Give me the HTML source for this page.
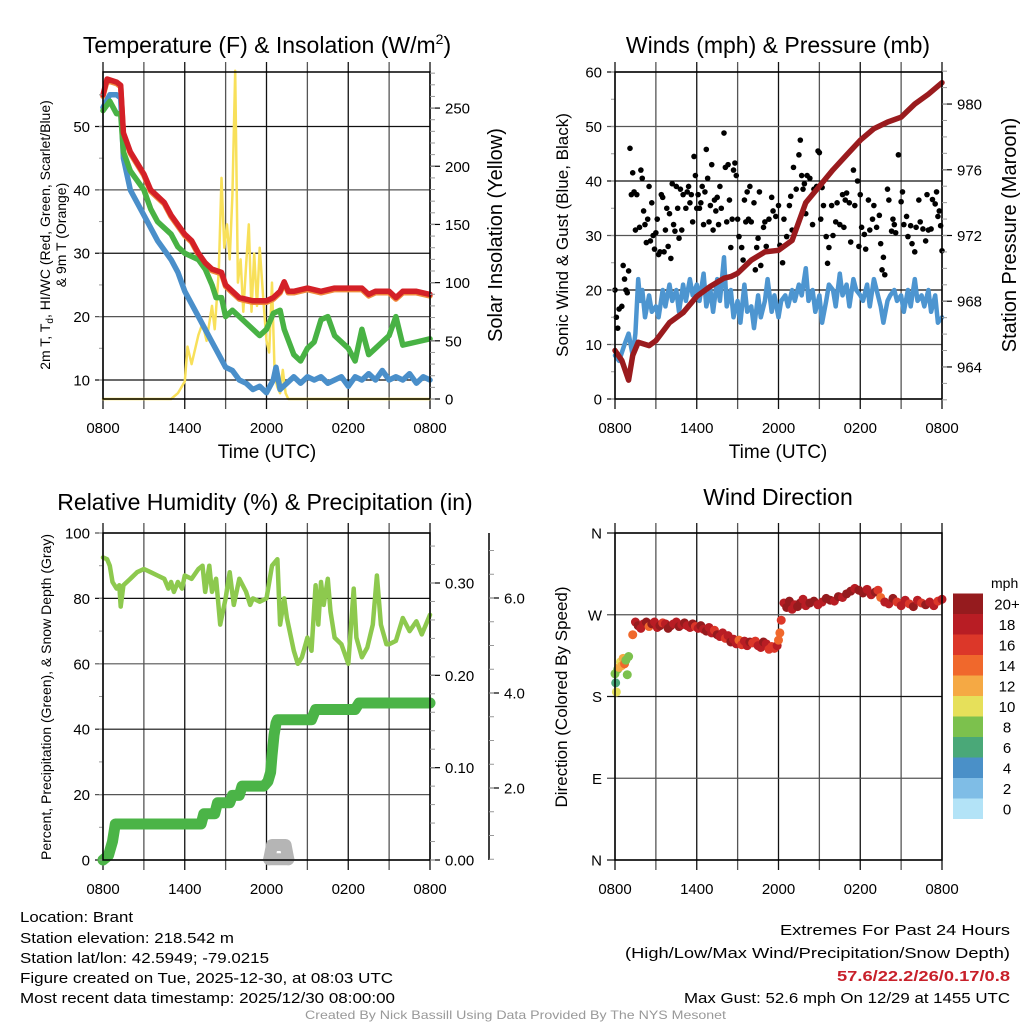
<!DOCTYPE html>
<html><head><meta charset="utf-8">
<style>
html,body{margin:0;padding:0;background:#fff;}
svg{display:block;font-family:"Liberation Sans",sans-serif;}
</style></head>
<body>
<svg id="c" width="1024" height="1024" viewBox="0 0 1024 1024" xmlns="http://www.w3.org/2000/svg">
<rect width="1024" height="1024" fill="#fff"/>
<g id="grids"></g>
<g id="marks"></g>
<g id="axes"></g>
<g id="texts" font-family="Liberation Sans, sans-serif" fill="#000">
<text x="267" y="53" font-size="23" text-anchor="middle">Temperature (F) &amp; Insolation (W/m<tspan dy="-9" font-size="14">2</tspan><tspan dy="9">)</tspan></text>
<text x="778" y="53" font-size="23" text-anchor="middle">Winds (mph) &amp; Pressure (mb)</text>
<text x="265" y="510" font-size="23" text-anchor="middle">Relative Humidity (%) &amp; Precipitation (in)</text>
<text x="778" y="505" font-size="23" text-anchor="middle">Wind Direction</text>
<text x="267" y="458" font-size="19" text-anchor="middle">Time (UTC)</text>
<text x="778" y="458" font-size="19" text-anchor="middle">Time (UTC)</text>
<text transform="translate(50,235) rotate(-90)" font-size="14" text-anchor="middle">2m T, T<tspan font-size="10" dy="3">d</tspan><tspan dy="-3">, HI/WC (Red, Green, Scarlet/Blue)</tspan></text>
<text transform="translate(66,235) rotate(-90)" font-size="14" text-anchor="middle">&amp; 9m T (Orange)</text>
<text transform="translate(502,235) rotate(-90)" font-size="20" text-anchor="middle">Solar Insolation (Yellow)</text>
<text transform="translate(568,235) rotate(-90)" font-size="17" text-anchor="middle">Sonic Wind &amp; Gust (Blue, Black)</text>
<text transform="translate(1016,235) rotate(-90)" font-size="20" text-anchor="middle">Station Pressure (Maroon)</text>
<text transform="translate(51,697) rotate(-90)" font-size="14" text-anchor="middle">Percent, Precipitation (Green), &amp; Snow Depth (Gray)</text>
<text transform="translate(567,697) rotate(-90)" font-size="17" text-anchor="middle">Direction (Colored By Speed)</text>
<text x="991" y="588" font-size="14">mph</text>
<g font-size="15">
<text x="20" y="922" textLength="113" lengthAdjust="spacingAndGlyphs">Location: Brant</text>
<text x="20" y="943" textLength="214" lengthAdjust="spacingAndGlyphs">Station elevation: 218.542 m</text>
<text x="20" y="963" textLength="249" lengthAdjust="spacingAndGlyphs">Station lat/lon: 42.5949; -79.0215</text>
<text x="20" y="983" textLength="373" lengthAdjust="spacingAndGlyphs">Figure created on Tue, 2025-12-30, at 08:03 UTC</text>
<text x="20" y="1003" textLength="375" lengthAdjust="spacingAndGlyphs">Most recent data timestamp: 2025/12/30 08:00:00</text>
</g>
<g font-size="15">
<text x="780" y="935" textLength="230" lengthAdjust="spacingAndGlyphs">Extremes For Past 24 Hours</text>
<text x="625" y="958" textLength="385" lengthAdjust="spacingAndGlyphs">(High/Low/Max Wind/Precipitation/Snow Depth)</text>
<text x="837" y="981" textLength="173" lengthAdjust="spacingAndGlyphs" fill="#c8202a" font-weight="bold">57.6/22.2/26/0.17/0.8</text>
<text x="684" y="1003" textLength="326" lengthAdjust="spacingAndGlyphs">Max Gust: 52.6 mph On 12/29 at 1455 UTC</text>
</g>
<text x="305" y="1019" font-size="12" fill="#999" textLength="421" lengthAdjust="spacingAndGlyphs">Created By Nick Bassill Using Data Provided By The NYS Mesonet</text>
</g>
</svg>
<script>
// ---------- data ----------
const tempHours = [0,0.3,1,1.3,1.5,2,3,3.5,4,4.5,5,5.5,6,6.5,7,7.5,8,8.7,9,9.5,10,11,12,12.5,13,13.3,13.6,14,15,16,17,18,19,19.5,20,21,21.5,22,23,24];
const tempValues = [55,57.5,57,56.5,49,46,42.5,40,39,38,36,34.5,33,32,30,28.5,27.5,27,25,24,23,22.5,22.5,23,24,25.5,24,24,24.5,24,24.5,24.5,24.5,23.5,24,24,23,24,24,23.5];
const dewHours = [0,0.5,1,1.3,1.5,2,3,3.5,4,5,5.5,6,7,7.5,8,8.3,8.7,9,9.5,10,11,11.5,12,12.5,13,13.3,14,14.5,15,15.5,16,16.5,17,18,18.5,19,19.5,20,21,21.5,22,23,24];
const dewValues = [52.5,54,52,52,46,43,40,37,35,33,31,30,29,27.5,25,23,23,20,21,20,18,17,18,20.5,21,18,14,13,15,16,19.5,20,17,15,13,18,14,15,17,20,15.5,16,16.5];
const chillHours = [0,0.5,1,1.3,1.5,2,3,4,5,5.5,6,6.5,7,7.5,8,8.5,9,9.5,10,10.5,11,11.5,12,12.5,12.7,13,13.5,14,14.5,15,15.5,16,16.5,17,17.5,18,18.5,19,19.5,20,20.5,21,21.5,22,22.5,23,23.5,24];
const chillValues = [53,55,55,54.5,45,40,36,32,29,27,24,22,20,18,16,14,12,11.5,10,9.5,8.5,9,8,10,12,8.5,9.5,10.5,9.5,10.5,10,10.5,9.5,10,10.5,9,10.5,10,11,10,11.5,10,10.5,10,11,9.5,10.5,10];
const solarHours = [0,5,5.5,6,6.2,6.5,7,7.3,7.6,8,8.2,8.5,8.7,8.9,9.1,9.3,9.5,9.7,9.9,10.1,10.3,10.5,10.7,10.9,11.1,11.3,11.5,11.8,12,12.2,12.4,12.6,12.8,13,13.2,13.4,13.6,24];
const solarValues = [0,0,5,15,45,30,55,65,50,80,60,110,190,130,150,120,175,282,100,120,75,115,150,75,125,80,130,80,50,40,100,20,10,5,25,5,0,0];
const windHours = [0,0.3,0.7,1,1.3,1.5,1.7,1.85,2,2.2,2.5,2.7,3,3.2,3.5,3.7,4,4.2,4.5,4.7,5,5.2,5.5,5.7,6,6.2,6.5,6.7,7,7.2,7.5,7.7,8,8.2,8.5,8.7,9,9.2,9.5,9.7,10,10.2,10.5,10.7,11,11.2,11.5,11.7,12,12.2,12.5,12.7,13,13.2,13.5,13.7,14,14.2,14.5,14.7,15,15.2,15.5,15.7,16,16.2,16.5,16.7,17,17.2,17.5,17.7,18,18.2,18.5,18.7,19,19.2,19.5,19.7,20,20.2,20.5,20.7,21,21.2,21.5,21.7,22,22.2,22.5,22.7,23,23.2,23.5,23.7,24];
const windValues = [8,7,10,12,8,12,22,18,20,15,19,16,17,15,20,17,21,18,20,16,21,18,22,19,21,18,23,17,20,16,22,18,26,17,20,15,18,14,21,16,17,13,19,15,18,22,16,19,15,18,19,17,20,18,21,19,24,18,20,16,19,14,18,21,20,17,23,19,21,17,22,20,19,18,21,17,22,20,17,14,18,19,20,18,19,16,20,17,22,18,19,17,20,16,19,14,15];
const presHours = [0,0.5,1,1.3,1.7,2.5,3,4,5,6,7,8,8.5,9,10,11,12,13,14,15,16,17,18,19,20,21,22,23,24];
const presValues = [965,964.4,963.2,964.7,965.5,965.3,965.6,966.7,967.3,968.3,968.9,969.4,969.5,969.7,970.5,971,971.1,971.7,974,975,976,976.9,977.8,978.5,978.9,979.2,980,980.6,981.3];
const gustHours = [0,0.1,0.2,0.3,0.5,0.6,0.7,0.8,0.9,1,1.1,1.2,1.3,1.4,1.5,1.6,1.8,1.9,2,2.1,2.2,2.3,2.4,2.5,2.6,2.7,2.8,2.9,3,3.1,3.2,3.3,3.4,3.5,3.6,3.7,3.8,3.9,4,4.1,4.2,4.3,4.4,4.5,4.6,4.7,4.8,4.9,5,5.2,5.3,5.4,5.5,5.6,5.7,5.8,5.9,6,6.1,6.2,6.3,6.4,6.5,6.6,6.7,6.8,6.9,7,7.1,7.2,7.3,7.4,7.5,7.6,7.7,7.8,8,8.1,8.2,8.3,8.4,8.5,8.6,8.7,8.8,8.9,9,9.1,9.3,9.4,9.5,9.6,9.7,9.8,9.9,10,10.2,10.3,10.4,10.5,10.6,10.7,10.9,11,11.1,11.3,11.5,11.6,11.8,12,12.1,12.3,12.4,12.6,12.8,12.9,13,13.1,13.3,13.5,13.6,13.7,13.8,13.9,14,14.1,14.3,14.5,14.6,14.8,14.9,15,15.1,15.2,15.3,15.5,15.6,15.7,15.9,16,16.2,16.3,16.5,16.7,16.8,16.9,17,17.2,17.3,17.5,17.6,17.8,17.9,18,18.1,18.3,18.4,18.6,18.7,18.9,19,19.2,19.4,19.5,19.6,19.7,19.8,20,20.1,20.3,20.4,20.5,20.6,20.8,21,21.1,21.2,21.4,21.5,21.7,21.8,22,22.1,22.3,22.4,22.6,22.8,22.9,23,23.2,23.3,23.5,23.6,23.7,23.8,23.9,24];
const gustValues = [20,15,13,16.5,17,24.5,22,20,19.5,23.5,46,37.5,41.5,38,31,37.5,31.5,42,40.5,34.5,32,28.7,33,39,29,36,30,27.5,30.5,33,26.5,27,37.5,37,27,31,35,28,34,25.8,39.5,32,30.8,39,35,29.5,38.5,31,37.5,35,38,39,36,37.5,32.5,44.5,41,35,37.5,35,36,39,32,38,45.8,40.5,32.5,35.5,43,31,36.5,34.5,37,32,39,35,48.8,42.5,32.5,43,36.5,27.8,33,42,43.3,41,33,29.8,27.8,25.5,36.5,32.5,38,33,39,32.5,36,23.7,27.8,29.5,38,24.5,31.5,32.5,28,33,37,34.5,33.5,35.5,28.2,25,33,29.8,35.5,37.2,31,42.5,38.5,44.8,47.5,41,38.5,39.5,34,41,40.5,32,38.5,39,45.5,45.2,33,38.8,35.5,29.8,24.9,27.8,35.5,30,32.5,36,32,37.5,31.5,36.5,37.8,36,28.8,42,35.5,40,28,37.5,31.5,30.2,27.5,36.5,31,33,35.5,31.5,33.7,28.5,23.7,26,22.8,38.5,36.5,30.8,33,32,30.5,44.8,36.2,38,32,33.5,29.8,31.8,28.5,27,31.5,36.5,32.5,31.2,29,37.5,31,31.2,36.6,35.8,38,33.5,34.5,31.8,27.2];
const rhHours = [0,0.3,0.5,0.7,1,1.2,1.3,1.5,2,2.5,3,3.5,4,4.5,4.8,5,5.2,5.5,5.8,6,6.5,7,7.3,7.5,7.8,8,8.3,8.6,9,9.3,9.6,10,10.5,10.8,11,11.5,12,12.4,12.8,13,13.3,13.5,14,14.3,14.6,15,15.3,15.6,15.8,16,16.2,16.5,16.7,17,17.5,18,18.4,18.6,19,19.4,19.8,20.1,20.4,20.8,21,21.5,22,22.5,23,23.4,23.7,24];
const rhValues = [92.5,92,90,85,83,84,77.5,84,86,88,89,88,87,86,83,85,82,85,83,87,86,89,90,82,90,82,86,72,80,88,78,86,82,78,80,79,80,90,92,72,80,74,64,60,62,68,64,84,72,85,78,86,76,68,66,60,83,68,62,65,72,87,72,66,66,67,74,70,73,69,72,75];
const precipHours = [0,0.4,0.7,0.9,7.2,7.4,8.2,8.4,9.3,9.5,10,10.2,11.8,12.1,12.3,12.4,12.55,12.7,12.8,15.3,15.6,18.5,18.8,24];
const precipValues = [0,0.005,0.02,0.039,0.039,0.05,0.05,0.062,0.062,0.07,0.07,0.08,0.08,0.085,0.095,0.113,0.135,0.148,0.152,0.152,0.163,0.163,0.17,0.17];
const snowHours = [12.2,12.4,13.4,13.6];
const snowValues = [0.5,0.8,0.8,0.5];
const dirHours = [0,0.05,0.1,0.2,0.3,0.4,0.5,0.6,0.7,0.8,0.9,1,1.3,1.5,1.7,1.9,2.1,2.3,2.5,2.7,2.9,3.1,3.3,3.5,3.7,3.9,4.1,4.3,4.5,4.7,4.9,5.1,5.3,5.5,5.7,5.9,6.1,6.3,6.5,6.7,6.9,7.1,7.3,7.5,7.7,7.9,8.1,8.3,8.5,8.7,8.9,9.1,9.3,9.5,9.7,9.9,10.1,10.3,10.5,10.7,10.9,11.1,11.3,11.5,11.7,11.9,12,12.1,12.2,12.4,12.6,12.8,13,13.2,13.4,13.6,13.8,14,14.3,14.6,14.9,15.2,15.5,15.8,16.1,16.4,16.7,17,17.3,17.6,17.9,18.2,18.5,18.8,19.1,19.3,19.5,19.8,20.1,20.4,20.7,21,21.3,21.6,21.9,22.2,22.5,22.8,23.1,23.4,23.7,24];
const dirDeg = [205,195,185,210,212,218,214,222,216,220,204,224,248,262,258,255,260,262,257,260,262,256,258,261,260,255,258,260,262,257,259,261,258,256,260,257,255,258,254,252,256,250,253,248,246,250,244,247,240,243,238,242,237,241,236,240,239,241,236,234,240,238,232,235,233,236,242,250,264,283,278,285,276,281,279,283,287,280,283,285,281,284,288,286,285,290,289,293,296,299,297,294,298,292,295,297,289,284,282,288,284,280,286,282,279,286,283,281,284,280,285,287,283,287];
const dirSpeed = [8,6,10,8,12,10,13,12,14,8,8,9,14,19,20,18,19,20,14,21,18,19,20,16,18,21,20,19,18,20,19,21,19,18,20,17,19,21,18,20,19,18,17,20,19,18,16,18,20,19,18,14,17,18,19,20,17,16,18,19,20,18,16,17,16,18,14,14,16,19,20,21,18,19,20,21,19,18,20,21,19,18,20,21,19,20,18,20,21,19,20,21,18,19,20,16,14,18,19,20,16,19,18,17,20,18,16,21,19,18,17,19,14,14];
const speedBins = ['0','2','4','6','8','10','12','14','16','18','20+'];
const binColors = ['#b3e3f7','#7fbde6','#4a90c8','#4aa878','#7cc14d','#e6e05a','#f5a944','#f0682c','#dc3729','#b81d24','#951b1e'];
const tempTicks = [10,20,30,40,50];
const solarTicks = [0,50,100,150,200,250];
const windTicks = [0,10,20,30,40,50,60];
const presTicks = [964,968,972,976,980];
const rhTicks = [0,20,40,60,80,100];
const precipTicks = [0,0.1,0.2,0.3];
const snowTicks = [2,4,6];
const dirTicks = [0,90,180,270,360];
const dirLabels = ['N','E','S','W','N'];
const timeTicks = [0,6,12,18,24];
const timeLabels = ['0800','1400','2000','0200','0800'];

// ---------- helpers ----------
const NS='http://www.w3.org/2000/svg';
const G=id=>document.getElementById(id);
function mk(tag,attrs,parent){const e=document.createElementNS(NS,tag);for(const k in attrs)e.setAttribute(k,attrs[k]);parent.appendChild(e);return e;}
function lin(d0,d1,r0,r1){return v=>r0+(v-d0)/(d1-d0)*(r1-r0);}
const gridG=G('grids'),markG=G('marks'),axG=G('axes'),txtG=G('texts');

function panel(name,x0,x1,yt,yb,yScale,ticks,labels,minorStep,dmin,dmax){
  const xs=lin(0,24,x0,x1);
  for(let h=0;h<=24;h+=3){
    const l=mk('line',{x1:xs(h),x2:xs(h),y1:yt-10,y2:yb+10,stroke:(h/3)%2?'#555':'#111','stroke-width':1.3},gridG);
    
    
  }
  ticks.forEach((v,i)=>{
    const y=yScale(v);
    const l=mk('line',{x1:x0-8,x2:x1,y1:y,y2:y,stroke:i%2?'#555':'#111','stroke-width':1.2},gridG);
    
    
    const t=mk('text',{x:x0-13,y:y+5.5,'font-size':15,'text-anchor':'end'},txtG);
    t.textContent=labels?labels[i]:v;
    
    
  });
  if(minorStep){for(let v=Math.ceil(dmin/minorStep)*minorStep;v<=dmax;v+=minorStep){const y=yScale(v);mk('line',{x1:x0-4,x2:x0,y1:y,y2:y,stroke:'#999','stroke-width':1},axG);}}
  timeTicks.forEach((h,i)=>{
    const t=mk('text',{x:xs(h),y:yb+34,'font-size':15,'text-anchor':'middle'},txtG);
    t.textContent=timeLabels[i];
    
    
  });
  const f=mk('rect',{x:x0,y:yt,width:x1-x0,height:yb-yt,fill:'none',stroke:'#000','stroke-width':1.5},axG);
  
  
  return xs;
}
function rightAxis(name,x,yScale,ticks,fmt,minorStep,dmin,dmax,yt,yb){
  ticks.forEach(v=>{
    const y=yScale(v);
    mk('line',{x1:x,x2:x+10,y1:y,y2:y,stroke:'#000','stroke-width':1.2},axG);
    const t=mk('text',{x:x+15,y:y+5.5,'font-size':15},txtG);
    t.textContent=fmt(v);
    
    
  });
  for(let v=Math.ceil(dmin/minorStep)*minorStep;v<=dmax+1e-9;v+=minorStep){const y=yScale(v);if(y>=yt-1&&y<=yb+1)mk('line',{x1:x,x2:x+5,y1:y,y2:y,stroke:'#999','stroke-width':1},axG);}
}
function path(xs,ys,H,V,attrs,name){
  const d=H.map((h,i)=>(i?'L':'M')+xs(h).toFixed(1)+','+ys(V[i]).toFixed(1)).join('');
  const p=mk('path',Object.assign({d:d,fill:'none','stroke-linejoin':'round','stroke-linecap':'round'},attrs),markG);
  
  
  return p;
}

// ---------- Panel 1: temperature ----------
const tY=lin(7,58.6,399,72);
const sY=lin(0,281,399,72);
const x1s=panel('temp',103,430,72,399,tY,tempTicks,null,5,7,58);
rightAxis('solar-axis',430,sY,solarTicks,v=>v,10,0,280,72,399);
path(x1s,sY,solarHours,solarValues,{stroke:'#f8e05a','stroke-width':2.5},'solar-insolation-line');
path(x1s,v=>tY(v)+1.5,tempHours,tempValues,{stroke:'#f08a3c','stroke-width':5.5},'temp-9m-line');
path(x1s,tY,chillHours,chillValues,{stroke:'#4a8fca','stroke-width':5.5},'wind-chill-line');
path(x1s,tY,dewHours,dewValues,{stroke:'#48b244','stroke-width':5.5},'dewpoint-line');
path(x1s,tY,tempHours,tempValues,{stroke:'#d42027','stroke-width':5.5},'temp-2m-line');

// ---------- Panel 2: winds ----------
const wY=lin(0,60,399,72);
const pY=lin(962.05,981.95,399,72);
const x2s=panel('winds',615,942,72,399,wY,windTicks,null,5,0,60);
rightAxis('pressure-axis',942,pY,presTicks,v=>v,1,962,982,72,399);
path(x2s,wY,windHours,windValues,{stroke:'#4d95d0','stroke-width':4.5},'sonic-wind-line');
gustHours.forEach((h,i)=>{
  const c=mk('circle',{cx:x2s(h),cy:wY(gustValues[i]),r:2.8,fill:'#000'},markG);
  
  
});
path(x2s,pY,presHours,presValues,{stroke:'#9a1b1e','stroke-width':5.5},'pressure-line');

// ---------- Panel 3: RH / precip ----------
const rY=lin(0,100,860,533);
const prY=lin(0,0.3,860,583);
const snY=lin(0,2,883,788);
const x3s=panel('rh',103,430,533,860,rY,rhTicks,null,10,0,100);
rightAxis('precip-axis',430,prY,precipTicks,v=>v.toFixed(2),0.02,0,0.35,533,860);
const sa=mk('line',{x1:489,x2:489,y1:533,y2:860,stroke:'#000','stroke-width':1.5},axG);


rightAxis('snow-axis',489,snY,snowTicks,v=>v.toFixed(1),0.5,0,7,533,860);
path(x3s,snY,snowHours,snowValues,{stroke:'#b5b5b5','stroke-width':12},'snow-depth-marks');
path(x3s,v=>snY(0.5),snowHours,snowValues,{stroke:'#b5b5b5','stroke-width':12},'snow-depth-base');
path(x3s,prY,precipHours,precipValues,{stroke:'#4bb447','stroke-width':11},'precipitation-marks');
path(x3s,rY,rhHours,rhValues,{stroke:'#8dc94e','stroke-width':4.5},'relative-humidity-line');

// ---------- Panel 4: wind direction ----------
const dY=lin(0,360,860,533);
const x4s=panel('direction',615,942,533,860,dY,dirTicks,dirLabels,0,0,0);
dirHours.forEach((h,i)=>{
  const b=Math.min(10,Math.floor(dirSpeed[i]/2));
  const c=mk('circle',{cx:x4s(h),cy:dY(dirDeg[i]),r:4.5,fill:binColors[b]},markG);
  
  
});
speedBins.forEach((lab,i)=>{
  const y=819-(i+1)*20.5;
  const r=mk('rect',{x:953,y:y,width:30,height:20.5,fill:binColors[i]},axG);
  
  
  const t=mk('text',{x:1007,y:y+16,'font-size':15,'text-anchor':'middle'},txtG);
  t.textContent=lab;
  
  
});
</script>
</body></html>
